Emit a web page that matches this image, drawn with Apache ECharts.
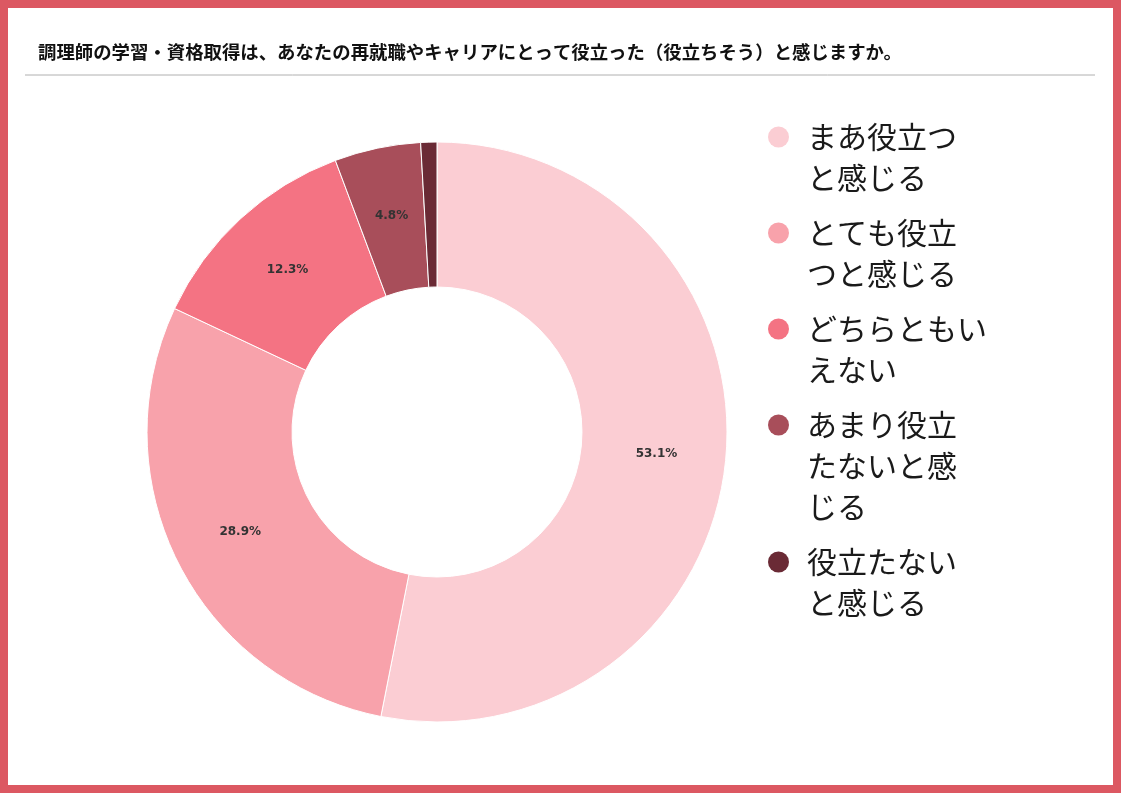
<!DOCTYPE html>
<html><head><meta charset="utf-8">
<script src="https://cdn.jsdelivr.net/npm/echarts@6/dist/echarts.min.js"></script>
<style>
html,body{margin:0;padding:0;background:#fff;}
#frame{width:1121px;height:793px;box-sizing:border-box;border:8px solid #dc5862;position:relative;background:#fff;}
#chart{position:absolute;left:-8px;top:-8px;width:1121px;height:793px;}
</style></head>
<body><div id="frame"><div id="chart"></div></div>
<script>
const titleText = '調理師の学習・資格取得は、あなたの再就職やキャリアにとって役立った（役立ちそう）と感じますか。';
const categories = ['まあ役立つと感じる','とても役立つと感じる','どちらともいえない','あまり役立たないと感じる','役立たないと感じる'];
const legendLines = [['まあ役立つ','と感じる'],['とても役立','つと感じる'],['どちらともい','えない'],['あまり役立','たないと感','じる'],['役立たない','と感じる']];
const values = [53.1, 28.9, 12.3, 4.8, 0.9];
const colors = ['#fbcdd3','#f8a2ab','#f47383','#a84e5a','#6a2a35'];

const rich = {t:{fontSize:30,lineHeight:41,color:'#1a1a1a',fontFamily:'Noto Sans CJK JP'}, s:{width:39,lineHeight:41}};
colors.forEach((c,i)=>{ rich['d'+i] = {width:21,height:21,borderRadius:10.5,backgroundColor:c,lineHeight:41,fontSize:1}; rich['g'+i]={width:18,lineHeight:41}; });

const chart = echarts.init(document.getElementById('chart'));
chart.setOption({
  animation:false,
  color: colors,
  title:{text:titleText,left:33,top:38,textStyle:{fontSize:18.4,fontWeight:'bold',color:'#111',fontFamily:'Noto Sans CJK JP'}},
  graphic:[{type:'line',shape:{x1:25,y1:75,x2:1095,y2:75},style:{stroke:'#b0b0b0',lineWidth:1}}],
  legend:{
    orient:'vertical', left:757, top:117, itemGap:25, itemWidth:0, itemHeight:0, icon:'rect',
    data: categories,
    formatter: function(name){
      const i = categories.indexOf(name);
      return legendLines[i].map((l,k)=> (k===0 ? '{d'+i+'| }{g'+i+'|}' : '{s|}') + '{t|'+l+'}').join('\n');
    },
    textStyle:{rich:rich}
  },
  series:[{
    type:'pie', center:[437,432], radius:[145,290], startAngle:90, clockwise:true,
    itemStyle:{borderColor:'#fff',borderWidth:1},
    label:{show:true,position:'inside',formatter:p=>p.value.toFixed(1)+'%',fontSize:12,fontWeight:'bold',color:'#333',fontFamily:'DejaVu Sans'},
    labelLine:{show:false},
    data: categories.map((c,i)=>({name:c,value:values[i],label:{show:i<4}}))
  }]
});
</script></body></html>
